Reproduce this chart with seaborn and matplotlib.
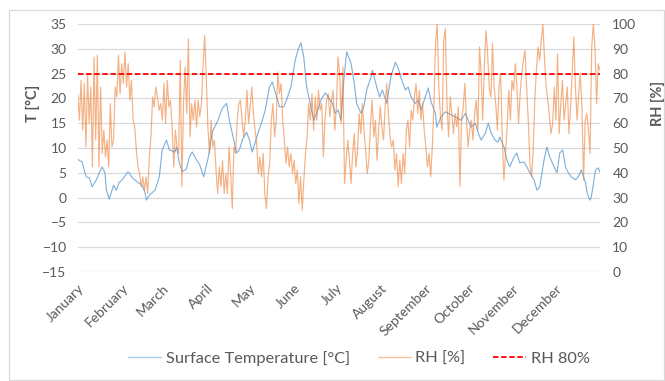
"""Surface temperature and relative humidity over one year."""

import matplotlib.pyplot as plt
import matplotlib.lines as mlines
import matplotlib.patches as mpatches
import numpy as np
import seaborn as sns

# month labels at the first day of each month
months = ['January', 'February', 'March', 'April', 'May', 'June', 'July',
          'August', 'September', 'October', 'November', 'December']
month_start = [0, 31, 59, 90, 120, 151, 181, 212, 243, 273, 304, 334]

# surface temperature [°C] (day of year, value)
temp_day = [0, 1, 3, 5, 6, 8, 10, 13, 15, 17, 19, 20, 22, 25, 27, 29, 31, 35,
            36, 38, 42, 45, 47, 48, 50, 54, 57, 59, 62, 64, 68, 69, 71, 73,
            76, 78, 80, 83, 85, 88, 91, 94, 98, 101, 104, 106, 108, 111, 113,
            115, 118, 120, 122, 126, 129, 131, 134, 136, 139, 141, 144, 146,
            149, 152, 154, 156, 158, 160, 163, 165, 167, 170, 173, 175, 178,
            180, 182, 184, 186, 188, 191, 193, 195, 198, 200, 202, 205, 206,
            209, 211, 213, 216, 219, 222, 224, 226, 229, 231, 233, 236, 238,
            240, 243, 245, 247, 250, 251, 254, 257, 261, 264, 268, 271, 273,
            275, 278, 280, 282, 285, 287, 289, 292, 294, 295, 298, 300, 302,
            305, 307, 309, 312, 314, 316, 319, 321, 323, 326, 328, 330, 333,
            335, 337, 339, 341, 343, 345, 348, 350, 352, 355, 356, 358, 359,
            362, 364, 365]
temp_c = [7.8, 7.5, 7.2, 5.0, 4.2, 4.0, 2.2, 3.6, 5.0, 6.2, 5.0, 1.5, -0.3,
          2.5, 1.5, 3.1, 3.6, 5.2, 5.0, 4.0, 3.1, 2.5, 1.0, -0.5, 0.5, 1.5,
          4.2, 9.6, 11.6, 9.6, 9.2, 10.2, 7.0, 5.2, 5.8, 8.2, 9.2, 7.6, 6.8,
          4.2, 7.8, 13.2, 15.6, 18.0, 19.0, 15.6, 13.0, 9.0, 9.6, 11.6, 13.2,
          11.6, 9.2, 13.0, 15.6, 17.6, 22.3, 23.3, 20.3, 18.3, 18.3, 19.7,
          22.3, 27.7, 29.8, 31.2, 28.3, 22.3, 18.3, 15.6, 17.0, 19.7, 21.1,
          20.3, 19.0, 17.0, 17.7, 15.6, 23.7, 29.4, 27.1, 23.7, 19.0, 17.0,
          18.3, 21.7, 24.3, 25.7, 22.3, 20.3, 21.7, 19.0, 24.5, 27.3, 26.1,
          24.1, 21.7, 22.3, 20.3, 19.0, 19.7, 17.7, 20.3, 22.1, 19.3, 17.0,
          14.2, 16.3, 17.3, 16.7, 16.3, 15.6, 17.0, 15.6, 14.2, 15.0, 13.0,
          11.6, 13.0, 15.0, 13.0, 11.5, 11.2, 12.2, 10.2, 7.6, 6.2, 8.2, 9.0,
          7.0, 7.2, 6.2, 5.0, 3.6, 1.5, 2.2, 7.6, 10.2, 8.2, 6.2, 5.0, 9.0,
          9.6, 6.2, 5.0, 4.2, 3.6, 4.2, 5.6, 3.0, 1.1, -0.5, 0.0, 5.6, 6.0,
          5.2]

# relative humidity [%], evenly spaced over the year
rh_pct = [
    72.0, 61.2, 77.3, 57.2, 76.0, 50.5, 80.0, 59.9, 74.6, 42.4, 86.7, 53.2,
    87.4, 42.4, 74.6, 47.8, 57.2, 46.4, 53.2, 42.4, 67.9, 50.5, 53.2, 74.6,
    70.6, 87.4, 71.9, 84.0, 76.0, 88.7, 74.6, 84.0, 69.3, 77.3, 61.2, 58.5,
    49.1, 42.4, 39.7, 34.4, 38.4, 33.0, 38.4, 31.7, 46.4, 54.5, 70.6, 66.6,
    74.6, 70.6, 65.2, 67.9, 61.2, 76.0, 59.9, 77.3, 66.6, 69.3, 58.5, 42.4,
    57.2, 50.5,
    47.8, 85.4, 34.4, 67.9, 82.7, 63.9, 94.1, 54.5, 67.9, 61.2, 69.3, 58.5,
    69.3, 62.6, 67.9, 82.7, 95.4, 78.7, 58.5, 47.8, 61.2, 50.5, 53.2, 41.1,
    31.7, 42.4, 34.4, 45.1, 31.7, 39.7, 31.7, 50.5, 39.7, 25.6, 50.5, 47.8,
    61.2, 67.9, 69.3, 61.2, 54.5, 61.2, 73.3, 59.9, 66.6, 74.6, 63.9, 57.2,
    51.8, 39.7, 46.4, 38.4, 47.8, 31.7, 25.6, 38.4, 43.8, 61.2, 67.9, 54.5,
    61.2, 80.7, 71.9, 76.0,
    61.2, 53.2, 43.8, 50.5, 42.4, 47.8, 39.7, 45.1, 35.7, 41.1, 27.7, 38.4,
    25.0, 37.0, 47.8, 54.5, 67.9, 61.2, 71.9, 57.2, 70.6, 61.2, 73.3, 65.2,
    67.9, 46.4, 61.2, 69.3, 71.9, 62.6, 69.3, 73.3, 57.2, 66.6, 86.7, 80.0,
    59.9, 82.7, 35.7, 45.1, 53.2, 45.1, 35.7, 47.8, 55.8, 42.4, 49.1, 63.9,
    55.8, 67.9, 57.2, 49.1, 39.7, 45.1, 59.9, 69.3, 54.5, 61.2, 45.1, 57.2,
    66.6, 58.5, 53.2, 66.6, 76.0,
    63.9, 54.5, 50.5, 53.2, 41.1, 47.8, 34.4, 45.1, 35.7, 47.8, 39.7, 57.2,
    61.2, 50.5, 65.2, 61.2, 70.6, 76.0, 63.9, 73.3, 61.2, 67.9, 57.2, 50.5,
    42.4, 47.8, 38.4, 50.5, 67.9, 92.1, 100.0, 74.6, 62.6, 57.2, 93.4, 98.1,
    67.9, 54.5, 70.6, 63.9, 55.8, 63.9, 58.5, 66.6, 34.4, 61.2, 66.6, 76.0,
    61.2, 50.5, 57.2, 61.2, 53.2, 63.9, 69.3, 57.2, 90.7, 80.0, 61.2, 84.0,
    97.4, 88.1, 74.6, 70.6,
    92.1, 74.6, 67.9, 57.2, 74.6, 80.0, 54.5, 37.0, 47.8, 58.5, 73.3, 61.2,
    77.3, 73.3, 84.0, 74.6, 59.9, 71.9, 80.0, 85.4, 89.4, 74.6, 61.2, 43.8,
    38.4, 47.8, 69.3, 81.3, 90.7, 85.4, 93.4, 100.0, 85.4, 74.6, 69.3, 62.6,
    55.8, 59.9, 74.6, 61.2, 88.1, 55.8, 67.9, 77.3, 61.2, 67.9, 74.6, 55.8,
    66.6, 80.0, 94.8, 74.6, 61.2, 71.9, 80.0, 66.6, 37.0, 61.2, 63.9, 57.2,
    47.8, 90.7, 100.0, 90.7, 67.9, 84.0, 81.3,
]
rh_day = np.linspace(0, 365, len(rh_pct))
rh_limit = 80

BLUE = '#5B9BD5'
ORANGE = '#ED7D31'
GREY = '#595959'
GRID = '#D9D9D9'

sns.set_theme(style='white')
plt.rcParams['font.family'] = ['Lato', 'DejaVu Sans']

fig = plt.figure(figsize=(6.65, 3.81), dpi=100)
ax1 = fig.add_axes([0.117, 0.286, 0.785, 0.651])
ax2 = ax1.twinx()

sns.lineplot(x=temp_day, y=temp_c, ax=ax1, color=BLUE, linewidth=0.8,
             alpha=0.8)
sns.lineplot(x=rh_day, y=rh_pct, ax=ax2, color=ORANGE, linewidth=0.85,
             alpha=0.6)
ax2.axhline(rh_limit, color='red', linestyle=(0, (3, 1.5)), linewidth=1.3)

ax1.set_xlim(0, 365)
ax1.set_ylim(-15, 35)
ax1.set_yticks(range(-15, 40, 5))
ax2.set_ylim(0, 100)
ax2.set_yticks(range(0, 110, 10))

ax1.grid(axis='y', color=GRID, linewidth=0.9)
ax1.grid(axis='x', visible=False)
ax2.grid(False)
for ax in (ax1, ax2):
    for sp in ax.spines.values():
        sp.set_visible(False)
    ax.tick_params(length=0, labelsize=10, colors=GREY)

ax1.set_xticks(month_start)
ax1.set_xticklabels(months)
plt.setp(ax1.get_xticklabels(), rotation=45, ha='right',
         rotation_mode='anchor')
ax1.tick_params(axis='x', pad=7)
ax1.tick_params(axis='y', pad=8)
ax2.tick_params(axis='y', pad=9)

ax1.set_xlabel('')
ax1.set_ylabel('T [°C]', fontsize=10.5, fontweight='bold', color=GREY)
ax1.yaxis.set_label_coords(-0.072, 0.68)
ax2.set_ylabel('RH [%]', fontsize=10.5, fontweight='bold', color=GREY)
ax2.yaxis.set_label_coords(1.097, 0.68)

handles = [
    mlines.Line2D([], [], color=BLUE, linewidth=1, alpha=0.5),
    mlines.Line2D([], [], color=ORANGE, linewidth=1, alpha=0.45),
    mlines.Line2D([], [], color='red', linewidth=1.3,
                  linestyle=(0, (3, 1.5))),
]
fig.legend(handles, ['Surface Temperature [°C]', 'RH [%]', 'RH 80%'],
           loc='center', bbox_to_anchor=(0.54, 0.06), ncol=3, frameon=False,
           fontsize=11.8, labelcolor=GREY, handlelength=2.0,
           handletextpad=0.3, columnspacing=1.7)

# light chart-area border
fig.patches.append(mpatches.Rectangle((0.014, 0.003), 0.984, 0.971,
                                      transform=fig.transFigure, fill=False,
                                      edgecolor=GRID, linewidth=0.9))

fig.savefig('out.png', dpi=100)
plt.close(fig)
